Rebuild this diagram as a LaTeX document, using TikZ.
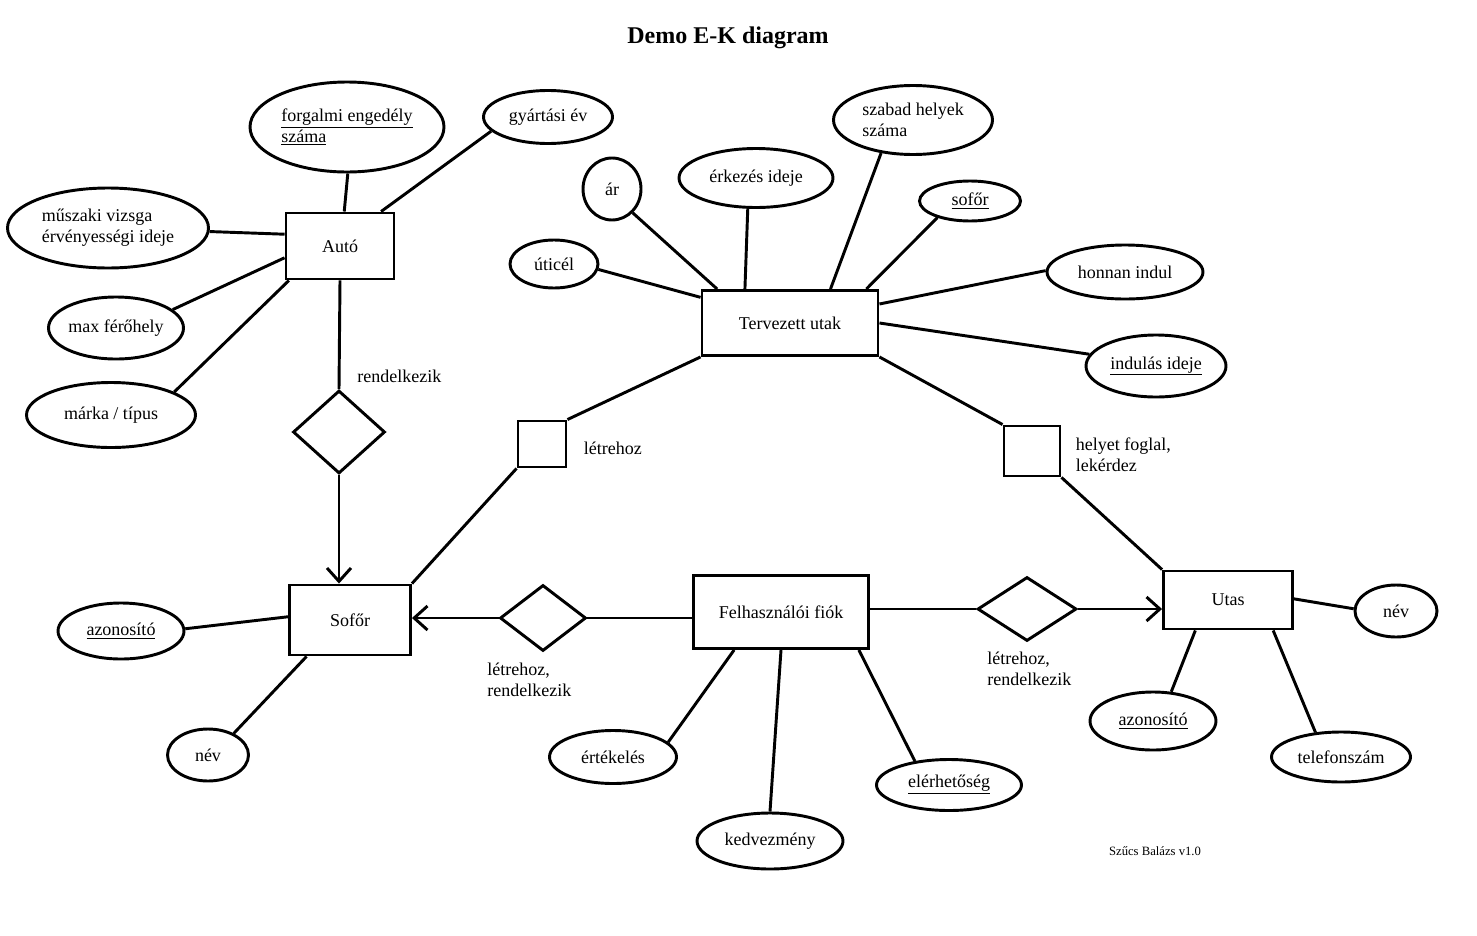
\documentclass[tikz,border=0pt]{standalone}
\usepackage{fontspec}
\setmainfont{Liberation Serif}
\usetikzlibrary{positioning, shapes.geometric, arrows.meta}
\tikzset{
every picture/.style={
line width=2.2pt
}}

\begin{document}
\begin{tikzpicture}[x=0.75pt, y=-0.75pt,
entity/.style = {rectangle, draw=black, inner sep=0pt},
attr/.style = {ellipse, draw=black, inner sep=0pt},
rel/.style = {diamond, draw=black, inner sep=0pt},
lbl/.style = {align=left, anchor=west, inner sep=0pt},
arr/.style = {-{Straight Barb[length=10pt, width=18pt]}},
font=\fontsize{13.5}{15.75}\selectfont]

  \useasboundingbox (0,0) rectangle (1477,935);

  \node[font=\bfseries\fontsize{18}{20}\selectfont] (title) at (728,38) {Demo E-K diagram};

  % entities
  \node[entity, minimum width=81pt, minimum height=49.5pt] (auto) at (340,246) {Autó};
  \node[entity, minimum width=132pt, minimum height=48.75pt] (utak) at (790,323) {Tervezett utak};
  \node[entity, minimum width=90.75pt, minimum height=52.5pt] (sofor) at (350,620) {Sofőr};
  \node[entity, minimum width=131.25pt, minimum height=54.75pt] (fiok) at (781,612) {Felhasználói fiók};
  \node[entity, minimum width=96.75pt, minimum height=43.5pt] (utas) at (1228,600) {Utas};

  % relations
  \node[rel, minimum width=69pt, minimum height=62.25pt] (r_auto) at (339,432) {};
  \node[rel, minimum width=64.5pt, minimum height=49.5pt] (r_sofor) at (543,618) {};
  \node[rel, minimum width=74.25pt, minimum height=48pt] (r_utas) at (1027,609) {};
  \node[entity, minimum width=36pt, minimum height=34.5pt] (w_letre) at (542,444) {};
  \node[entity, minimum width=42pt, minimum height=37.5pt] (w_foglal) at (1032,451) {};

  % attributes
  \node[attr, minimum width=145.5pt, minimum height=67.5pt, align=left] (a_forg) at (347,127) {\underline{forgalmi engedély}\\\underline{száma}};
  \node[attr, minimum width=96.75pt, minimum height=39.75pt] (a_gyart) at (548,117) {gyártási év};
  \node[attr, minimum width=150.75pt, minimum height=60pt, align=left] (a_musz) at (108,228) {műszaki vizsga\\érvényességi ideje};
  \node[attr, minimum width=99pt, minimum height=46.5pt] (a_max) at (116,328) {max férőhely};
  \node[attr, minimum width=126.75pt, minimum height=48.75pt] (a_marka) at (111,415) {márka / típus};
  \node[attr, minimum width=43.5pt, minimum height=46.5pt] (a_ar) at (612,189) {ár};
  \node[attr, minimum width=115.5pt, minimum height=44.25pt] (a_erk) at (756,178) {érkezés ideje};
  \node[attr, minimum width=119.25pt, minimum height=51.75pt, align=left] (a_szabad) at (913,120) {szabad helyek\\száma};
  \node[attr, minimum width=75.75pt, minimum height=30pt] (a_sofor) at (970,201) {\underline{sofőr}};
  \node[attr, minimum width=66pt, minimum height=36pt] (a_cel) at (554,264) {úticél};
  \node[attr, minimum width=117pt, minimum height=40.5pt] (a_honnan) at (1125,272) {honnan indul};
  \node[attr, minimum width=105pt, minimum height=46.5pt] (a_indul) at (1156,366) {\underline{indulás ideje}};
  \node[attr, minimum width=94.5pt, minimum height=42pt] (s_azon) at (121,631) {\underline{azonosító}};
  \node[attr, minimum width=60.75pt, minimum height=39pt] (s_nev) at (208,755) {név};
  \node[attr, minimum width=95.25pt, minimum height=39.75pt] (f_ert) at (613,757) {értékelés};
  \node[attr, minimum width=109.5pt, minimum height=42pt] (f_kedv) at (770,841) {kedvezmény};
  \node[attr, minimum width=108.75pt, minimum height=38.25pt] (f_eler) at (949,785) {\underline{elérhetőség}};
  \node[attr, minimum width=94.5pt, minimum height=43.5pt] (u_azon) at (1153,721) {\underline{azonosító}};
  \node[attr, minimum width=104.25pt, minimum height=37.5pt] (u_tel) at (1341,757) {telefonszám};
  \node[attr, minimum width=61.5pt, minimum height=39pt] (u_nev) at (1396,611) {név};

  % labels
  \node[lbl] (l_rend) at (356,376) {rendelkezik};
  \node[lbl, right=11.25pt of w_letre, yshift=-3pt] (l_letre) {létrehoz};
  \node[lbl, right=9.75pt of w_foglal, yshift=-3pt] (l_foglal) {helyet foglal,\\lekérdez};
  \node[lbl] (l_sofor) at (486,680) {létrehoz,\\rendelkezik};
  \node[lbl] (l_utas) at (986,669) {létrehoz,\\rendelkezik};
  \node[font=\fontsize{9.5}{11}\selectfont] (sign) at (1155,851) {Szűcs Balázs v1.0};

  % Auto
  \draw (a_forg.271) -- (auto.83);
  \draw (a_gyart.194) -- (auto.40);
  \draw (a_musz.358) -- (auto.168);
  \draw (a_max.18) -- (auto.192);
  \draw (a_marka.20) -- (auto.214);
  \draw (auto.south) -- (r_auto.north);
  \draw[arr] (r_auto.south) -- (r_auto.south |- sofor.north);

  % Tervezett utak
  \draw (a_cel.353) -- (utak.164);
  \draw (a_ar.311) -- (utak.155);
  \draw (a_erk.255) -- (utak.143);
  \draw (a_szabad.226) -- (utak.40);
  \draw (a_sofor.207) -- (utak.24);
  \draw (a_honnan.179) -- (utak.12);
  \draw (a_indul.170) -- (utak.0);
  \draw (utak.south west) -- (w_letre.north east);
  \draw (w_letre.south west) -- (sofor.north east);
  \draw (utak.south east) -- (w_foglal.north west);
  \draw (w_foglal.south east) -- (utas.north west);

  % Sofor
  \draw (s_azon.2) -- (sofor.177);
  \draw (s_nev.40) -- (sofor.220);
  \draw[arr] (r_sofor.west) -- (r_sofor.west -| sofor.east);
  \draw (fiok.west |- r_sofor.east) -- (r_sofor.east);

  % Felhasznaloi fiok
  \draw (f_ert.15) -- (fiok.219);
  \draw (f_kedv.north) -- (fiok.south);
  \draw (f_eler.145) -- (fiok.334);
  \draw (fiok.east |- r_utas.west) -- (r_utas.west);
  \draw[arr] (r_utas.east) -- (r_utas.east -| utas.west);

  % Utas
  \draw (u_nev.177) -- (utas.1);
  \draw (u_azon.58) -- (utas.223);
  \draw (u_tel.136) -- (utas.326);

\end{tikzpicture}
\end{document}
